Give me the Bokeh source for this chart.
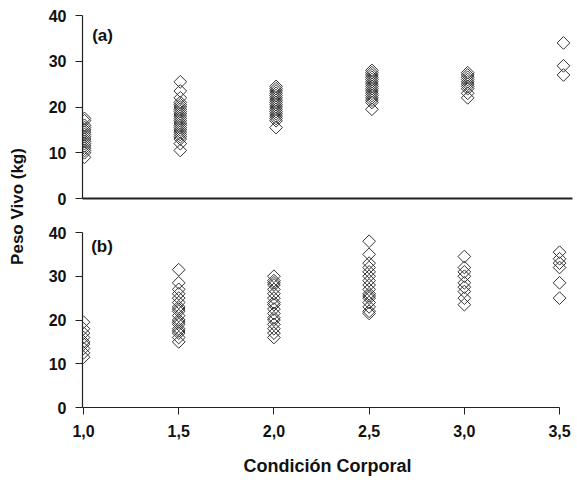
import numpy as np
from bokeh.plotting import figure
from bokeh.layouts import row, column
from bokeh.models import Range1d, FixedTicker, Label
from bokeh.embed import file_html
from bokeh.resources import INLINE

# ---- data (Peso vivo, kg) by condición corporal ----
cond = [1.0, 1.5, 2.0, 2.5, 3.0, 3.5]

# panel (a)
a_10 = [9, 10, 10.5, 11, 11.5, 12, 12.5, 13, 13.5, 14, 14.5, 15, 15.5, 16,
        17, 17.5]
a_15 = [10.5, 12, 13, 13.5, 14, 14.5, 15, 15.5, 16, 16.5, 17, 17.5, 18, 18.5,
        19, 19.5, 20, 20.5, 21, 22, 23.5, 25.5]
a_20 = [15.5, 17, 17.5, 18, 18.5, 19, 19.5, 20, 20.5, 21, 21.5, 22, 22.5, 23,
        23.5, 24, 24.5]
a_25 = [19.5, 21, 21.5, 22, 22.5, 23, 23.5, 24, 24.5, 25, 25.5, 26, 26.5, 27,
        27.5, 28]
a_30 = [22, 23, 24, 24.5, 25, 25.5, 26, 26.5, 27, 27.5]
a_35 = [27, 29, 34]

# panel (b)
b_10 = [11.5, 12.5, 13.5, 14.5, 15, 16, 17, 18, 19.5]
b_15 = [15, 16, 17, 17.5, 18, 19, 19.5, 20, 21, 22, 22.5, 23, 24, 25, 26, 27,
        28.5, 31.5]
b_20 = [16, 17, 18, 19, 20, 20.5, 21.5, 22.5, 23.5, 24, 25, 26, 27, 28, 28.5,
        29, 30]
b_25 = [21.5, 22, 23, 24, 25, 25.5, 26, 27, 28, 29, 30, 31, 32, 33, 35, 38]
b_30 = [23.5, 25, 26.5, 27.5, 28.5, 30, 31, 32, 34.5]
b_35 = [25, 28.5, 32, 33, 34, 35.5]

x_ticks = [1.0, 1.5, 2.0, 2.5, 3.0, 3.5]
x_tick_labels = ["1,0", "1,5", "2,0", "2,5", "3,0", "3,5"]
y_ticks = [0, 10, 20, 30, 40]

x_label = "Condición Corporal"
y_label = "Peso Vivo (kg)"


def flatten(groups):
    xs, ys = [], []
    for c, vals in zip(cond, groups):
        xs += [c] * len(vals)
        ys += vals
    return xs, ys


xa, ya = flatten([a_10, a_15, a_20, a_25, a_30, a_35])
xb, yb = flatten([b_10, b_15, b_20, b_25, b_30, b_35])

FONT = "Liberation Sans"
INK = "#222222"
TXT = "#111111"


def style_y(p):
    ax = p.yaxis[0]
    ax.ticker = FixedTicker(ticks=y_ticks)
    ax.axis_line_color = INK
    ax.axis_line_width = 1.2
    ax.major_tick_line_color = INK
    ax.major_tick_in = 0
    ax.major_tick_out = 7
    ax.minor_tick_line_color = None
    ax.major_label_text_font = FONT
    ax.major_label_text_font_style = "bold"
    ax.major_label_text_font_size = "16px"
    ax.major_label_text_color = TXT
    ax.major_label_standoff = 9


def base(height, top, bottom, x0, x1):
    p = figure(width=543, height=height, toolbar_location=None,
               output_backend="svg", x_range=Range1d(x0, x1),
               y_range=Range1d(0, 40), min_border_left=48,
               min_border_right=5, min_border_top=top,
               min_border_bottom=bottom)
    p.outline_line_color = None
    p.xgrid.grid_line_color = None
    p.ygrid.grid_line_color = None
    p.background_fill_color = "white"
    p.border_fill_color = "white"
    style_y(p)
    return p


# ---- panel (a) ----
pa = base(208, 15, 10, 0.9896, 3.547)
xa_ax = pa.xaxis[0]
xa_ax.ticker = FixedTicker(ticks=[])
xa_ax.axis_line_color = INK
xa_ax.axis_line_width = 2
xa_ax.major_tick_line_color = None
xa_ax.minor_tick_line_color = None
pa.scatter(x=xa, y=ya, marker="square", angle=np.pi / 4, size=9,
           fill_alpha=0, line_color="#333333", line_width=1)
pa.add_layout(Label(x=1.04, y=35.6, text="(a)", text_font=FONT,
                    text_font_style="bold", text_font_size="17px",
                    text_baseline="middle", text_color=TXT))

# ---- panel (b) ----
pb = base(274, 24, 75, 0.9947, 3.568)
xb_ax = pb.xaxis[0]
xb_ax.ticker = FixedTicker(ticks=x_ticks)
xb_ax.major_label_overrides = dict(zip(x_ticks, x_tick_labels))
xb_ax.bounds = (0.9947, 3.5)
xb_ax.axis_line_color = INK
xb_ax.axis_line_width = 1.2
xb_ax.major_tick_line_color = INK
xb_ax.major_tick_in = 0
xb_ax.major_tick_out = 7
xb_ax.minor_tick_line_color = None
xb_ax.major_label_text_font = FONT
xb_ax.major_label_text_font_style = "bold"
xb_ax.major_label_text_font_size = "16px"
xb_ax.major_label_text_color = TXT
xb_ax.major_label_standoff = 10
xb_ax.axis_label = x_label
xb_ax.axis_label_text_font = FONT
xb_ax.axis_label_text_font_style = "bold"
xb_ax.axis_label_text_font_size = "18px"
xb_ax.axis_label_text_color = TXT
xb_ax.axis_label_standoff = 16
pb.scatter(x=xb, y=yb, marker="square", angle=np.pi / 4, size=9,
           fill_alpha=0, line_color="#333333", line_width=1)
pb.add_layout(Label(x=1.04, y=36.8, text="(b)", text_font=FONT,
                    text_font_style="bold", text_font_size="17px",
                    text_baseline="middle", text_color=TXT))

# ---- shared y-axis label ----
pl = figure(width=34, height=482, toolbar_location=None, output_backend="svg",
            x_range=Range1d(0, 34), y_range=Range1d(0, 482),
            x_axis_location=None, y_axis_location=None, min_border=0)
pl.outline_line_color = None
pl.xgrid.grid_line_color = None
pl.ygrid.grid_line_color = None
pl.add_layout(Label(x=17, y=276, text=y_label, angle=np.pi / 2,
                    text_align="center", text_baseline="middle",
                    text_font=FONT, text_font_style="bold",
                    text_font_size="17px", text_color=TXT))

layout = row(pl, column(pa, pb))

open("out.html", "w").write(file_html(layout, INLINE))
